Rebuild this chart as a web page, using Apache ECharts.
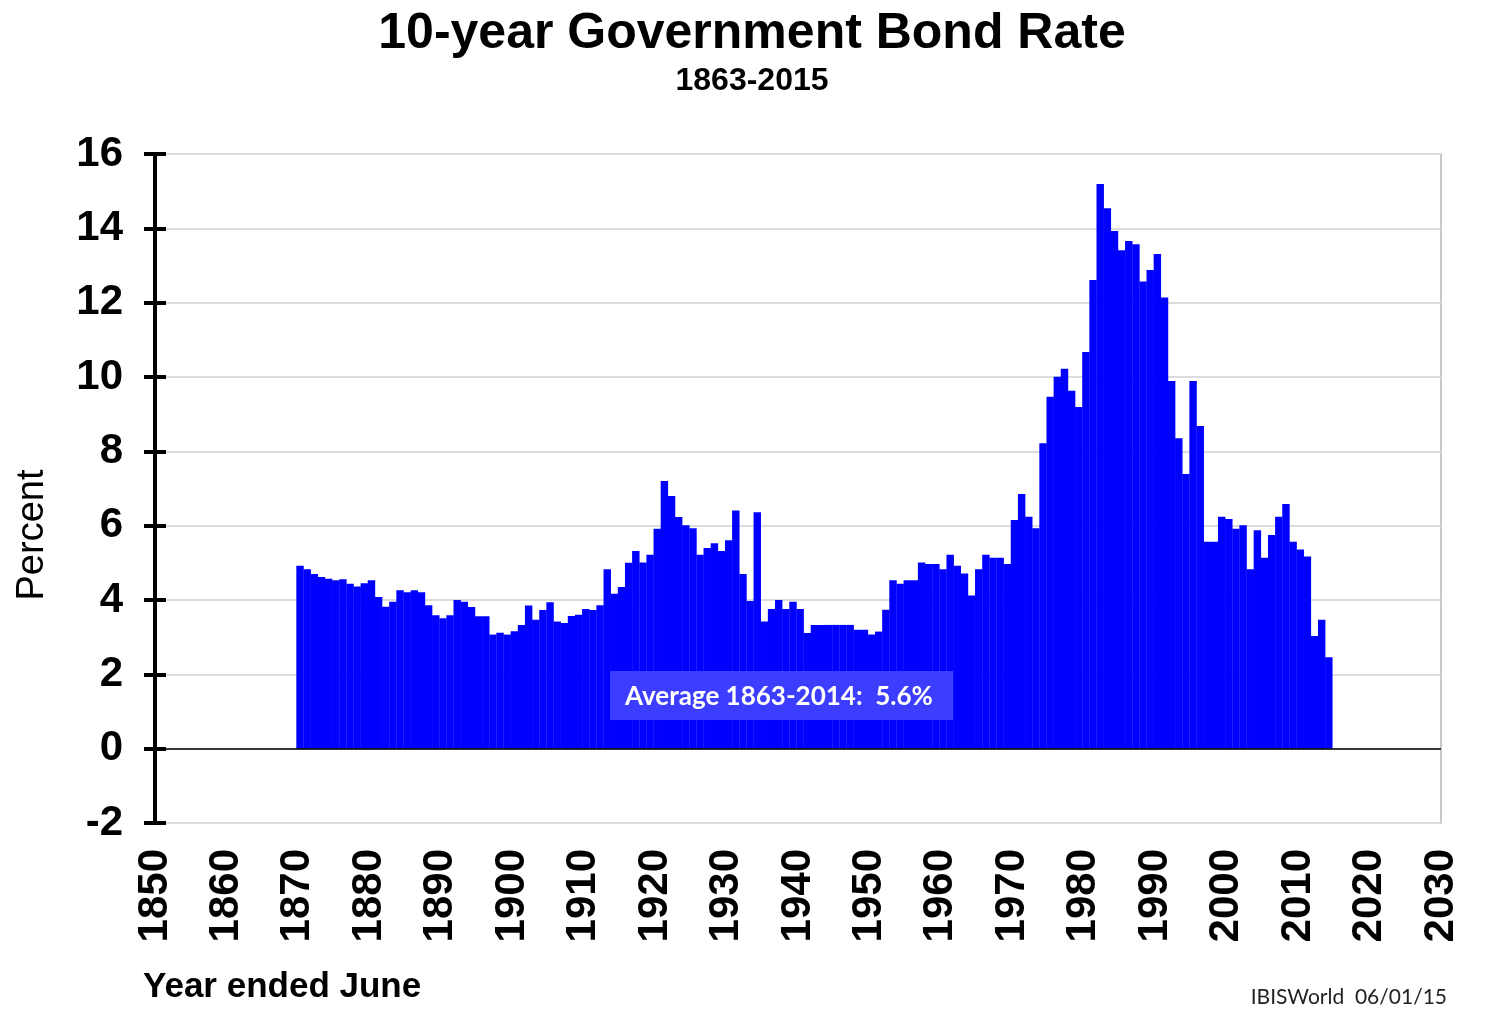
<!DOCTYPE html>
<html>
<head>
<meta charset="utf-8">
<title>10-year Government Bond Rate</title>
<script src="https://cdn.jsdelivr.net/npm/echarts@6/dist/echarts.min.js"></script>
<style>
  html, body { margin: 0; padding: 0; background: #fff; }
  #bond-rate { width: 1504px; height: 1017px; }
</style>
</head>
<body>
<div id="bond-rate"></div>
<script>
var firstYear = 1870;
var rates = [
  4.92, 4.83, 4.70, 4.62, 4.57, 4.53, 4.56, 4.44, 4.36, 4.45, // 1870s
  4.53, 4.08, 3.82, 3.95, 4.26, 4.21, 4.26, 4.21, 3.86, 3.59, // 1880s
  3.51, 3.59, 4.00, 3.95, 3.81, 3.56, 3.56, 3.07, 3.12, 3.07, // 1890s
  3.16, 3.33, 3.85, 3.47, 3.73, 3.94, 3.42, 3.38, 3.57, 3.60, // 1900s
  3.76, 3.73, 3.86, 4.83, 4.17, 4.35, 5.00, 5.32, 5.01, 5.22, // 1910s
  5.92, 7.20, 6.80, 6.23, 6.01, 5.93, 5.22, 5.40, 5.53, 5.32, // 1920s
  5.61, 6.41, 4.70, 3.97, 6.36, 3.42, 3.76, 4.00, 3.76, 3.95, // 1930s
  3.76, 3.11, 3.33, 3.33, 3.33, 3.33, 3.33, 3.33, 3.20, 3.20, // 1940s
  3.07, 3.15, 3.74, 4.53, 4.44, 4.53, 4.53, 5.01, 4.97, 4.97, // 1950s
  4.83, 5.22, 4.92, 4.71, 4.12, 4.83, 5.22, 5.14, 5.14, 4.97, // 1960s
  6.15, 6.85, 6.24, 5.93, 8.22, 9.47, 10.01, 10.22, 9.63, 9.19, // 1970s
  10.67, 12.61, 15.19, 14.54, 13.93, 13.41, 13.66, 13.57, 12.57, 12.88, // 1980s
  13.31, 12.14, 9.89, 8.35, 7.39, 9.89, 8.68, 5.57, 5.57, 6.24, // 1990s
  6.18, 5.92, 6.01, 4.83, 5.88, 5.14, 5.75, 6.24, 6.58, 5.57, // 2000s
  5.36, 5.17, 3.03, 3.47, 2.46 // 2010-2014
];
var years = rates.map(function (v, i) { return firstYear + i; });

var xMin = 1850, xMax = 2030, xStep = 10;
var yMin = -2, yMax = 16, yStep = 2;
var averageNote = 'Average 1863-2014:  5.6%';

var boldFont = '"Liberation Sans", Arial, sans-serif';

var dom = document.getElementById('bond-rate');
var myChart = echarts.init(dom);

var option = {
  animation: false,
  backgroundColor: '#fff',
  title: {
    text: '10-year Government Bond Rate',
    subtext: '1863-2015',
    left: 'center',
    top: 4,
    itemGap: 6,
    textStyle: { fontFamily: boldFont, fontWeight: 'bold', fontSize: 50, color: '#000' },
    subtextStyle: { fontFamily: boldFont, fontWeight: 'bold', fontSize: 32, color: '#000' }
  },
  grid: {
    left: 155,
    right: 63,
    top: 154,
    bottom: 194,
    containLabel: false,
    show: true,
    borderColor: '#c8c8c8',
    borderWidth: 2
  },
  xAxis: {
    type: 'value',
    min: xMin,
    max: xMax,
    interval: xStep,
    axisLine: { show: false, onZero: false },
    axisTick: { show: false },
    splitLine: { show: false },
    axisLabel: {
      rotate: 90,
      margin: 26,
      fontFamily: boldFont,
      fontWeight: 'bold',
      fontSize: 42,
      color: '#000',
      formatter: function (v) { return String(v); }
    }
  },
  yAxis: [
    {
      type: 'value',
      min: yMin,
      max: yMax,
      interval: yStep,
      axisLine: { show: true, lineStyle: { color: '#000', width: 4 } },
      axisTick: { show: true, length: 11, lineStyle: { color: '#000', width: 4 } },
      splitLine: { show: true, lineStyle: { color: '#dcdcdc', width: 2 } },
      axisLabel: {
        margin: 32,
        fontFamily: boldFont,
        fontWeight: 'bold',
        fontSize: 42,
        color: '#000'
      }
    },
    {
      // same axis again, only to get the inner half of the crossing ticks
      type: 'value',
      position: 'left',
      min: yMin,
      max: yMax,
      interval: yStep,
      axisLine: { show: true, lineStyle: { color: '#000', width: 4 } },
      axisTick: { show: true, inside: true, length: 11, lineStyle: { color: '#000', width: 4 } },
      axisLabel: { show: false },
      splitLine: { show: false }
    }
  ],
  series: [
    {
      name: 'Bond rate',
      type: 'bar',
      yAxisIndex: 0,
      barWidth: '104%',
      itemStyle: { color: '#0000ff' },
      data: years.map(function (y, i) { return [y + 0.3, rates[i]]; }),
      markLine: {
        silent: true,
        symbol: 'none',
        label: { show: false },
        lineStyle: { color: '#000', width: 1.5, type: 'solid' },
        data: [{ yAxis: 0 }]
      }
    }
  ],
  graphic: [
    {
      type: 'text',
      x: 33,
      y: 535,
      rotation: Math.PI / 2,
      style: {
        text: 'Percent',
        fill: '#000',
        font: '38px ' + boldFont,
        textAlign: 'center',
        textVerticalAlign: 'middle'
      }
    },
    {
      type: 'rect',
      left: 610,
      top: 671,
      shape: { width: 343, height: 49 },
      style: { fill: '#3d3dff' },
      z: 100
    },
    {
      type: 'text',
      left: 625,
      top: 684,
      style: {
        text: averageNote,
        fill: '#fff',
        font: 'bold 26px Lato, "Open Sans", sans-serif'
      },
      z: 101
    },
    {
      type: 'text',
      left: 143,
      top: 970,
      style: {
        text: 'Year ended June',
        fill: '#000',
        font: 'bold 35px ' + boldFont
      }
    },
    {
      type: 'text',
      right: 57,
      top: 987,
      style: {
        text: 'IBISWorld  06/01/15',
        fill: '#222',
        font: '21px Lato, "Open Sans", sans-serif'
      }
    }
  ]
};

myChart.setOption(option);
window.addEventListener('resize', function () {
  myChart.resize();
});
</script>
</body>
</html>
